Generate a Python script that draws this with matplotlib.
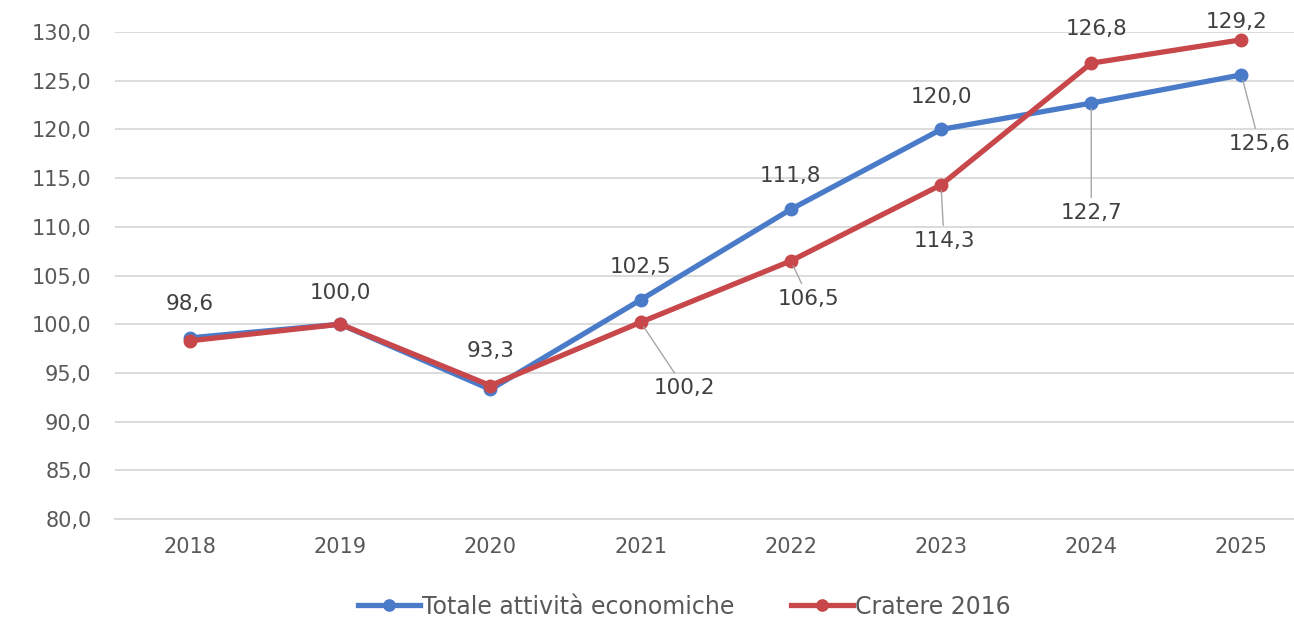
import matplotlib
matplotlib.use("Agg")
import matplotlib.pyplot as plt
from matplotlib.ticker import FuncFormatter

years = ["2018", "2019", "2020", "2021", "2022", "2023", "2024", "2025"]
totale = [98.6, 100.0, 93.3, 102.5, 111.8, 120.0, 122.7, 125.6]
cratere = [98.3, 100.0, 93.7, 100.2, 106.5, 114.3, 126.8, 129.2]
name_totale = "Totale attività economiche"
name_cratere = "Cratere 2016"

BLUE = "#4A7BC8"
RED = "#C8474A"
TXT = "#404040"
TICK = "#595959"
GRID = "#d9d9d9"

plt.rcParams["font.family"] = ["DejaVu Sans"]

fig = plt.figure(figsize=(12.94, 6.19), dpi=100)
ax = fig.add_axes([115/1294, 1-519/619, 1-115/1294, (519-32)/619])

x = list(range(len(years)))
ax.plot(x, totale, color=BLUE, lw=3.8, marker="o", ms=9, zorder=3, label=name_totale)
ax.plot(x, cratere, color=RED, lw=3.8, marker="o", ms=9, zorder=4, label=name_cratere)

ax.set_ylim(80, 130)
ax.set_yticks(range(80, 131, 5))
ax.set_xlim(-0.5, 7.35)
ax.set_xticks(x)
ax.set_xticklabels(years)
ax.yaxis.set_major_formatter(FuncFormatter(lambda v, p: f"{v:.1f}".replace(".", ",")))
ax.grid(axis="y", color=GRID, lw=1.3)
ax.set_axisbelow(True)
for s in ["top", "right", "left"]:
    ax.spines[s].set_visible(False)
ax.spines["bottom"].set_color(GRID)
ax.spines["bottom"].set_linewidth(1.3)
ax.tick_params(axis="both", length=0, labelsize=15, colors=TICK)
ax.tick_params(axis="x", pad=13)
ax.tick_params(axis="y", pad=17)

fmt = lambda v: f"{v:.1f}".replace(".", ",")

# offsets in pixels (dx, dy) relative to point; leader line flag
blue_off = [(0, 34, False), (0, 31, False), (0, 38, False), (0, 33, False),
            (0, 33, False), (0, 32, False), (0, -110, True), (18, -69, True)]
red_off = [None, None, None, (44, -66, True), (18, -38, True), (3, -56, True),
           (5, 34, False), (-5, 18, False)]

def label(series, offs):
    for i, (v, o) in enumerate(zip(series, offs)):
        if o is None:
            continue
        dx, dy, lead = o
        kw = {}
        if lead:
            kw["arrowprops"] = dict(arrowstyle="-", color="#a6a6a6", lw=1.0,
                                    shrinkA=2, shrinkB=4)
        ax.annotate(fmt(v), xy=(i, v), xytext=(dx, dy), textcoords="offset pixels",
                    ha="center", va="center", fontsize=15.5, color=TXT, zorder=5,
                    annotation_clip=False, **kw)

label(totale, blue_off)
label(cratere, red_off)

fig.legend(loc="center", bbox_to_anchor=(0.529, 0.02), ncol=2, frameon=False,
           fontsize=17, handlelength=2.6, columnspacing=2.4, handletextpad=0.1,
           labelcolor=TICK, markerscale=0.9)

fig.savefig("out.png", dpi=100)
